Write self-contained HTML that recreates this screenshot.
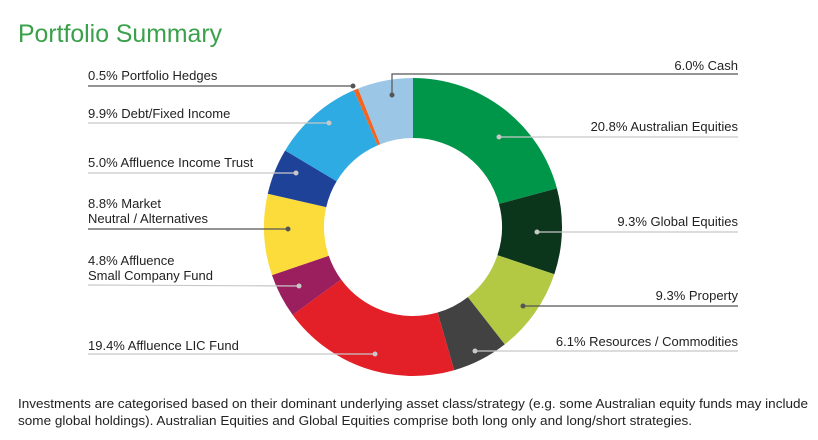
<!DOCTYPE html>
<html><head><meta charset="utf-8"><style>
html,body{margin:0;padding:0;background:#fff;}
body{width:818px;height:440px;position:relative;overflow:hidden;font-family:"Liberation Sans",sans-serif;}
svg{position:absolute;left:0;top:0;}
text{font-family:"Liberation Sans",sans-serif;}
</style></head><body>
<svg id="s" width="818" height="440" viewBox="0 0 818 440">
<text x="18" y="42" font-size="25" fill="#3aa14a" textLength="204" lengthAdjust="spacingAndGlyphs">Portfolio Summary</text>
<g id="d"></g>
<g font-size="13" fill="#222">
<text x="88" y="80">0.5% Portfolio Hedges</text>
<text x="88" y="118">9.9% Debt/Fixed Income</text>
<text x="88" y="167">5.0% Affluence Income Trust</text>
<text x="88" y="208">8.8% Market</text>
<text x="88" y="223">Neutral / Alternatives</text>
<text x="88" y="265">4.8% Affluence</text>
<text x="88" y="280">Small Company Fund</text>
<text x="88" y="350">19.4% Affluence LIC Fund</text>
<g text-anchor="end">
<text x="738" y="70">6.0% Cash</text>
<text x="738" y="131">20.8% Australian Equities</text>
<text x="738" y="226">9.3% Global Equities</text>
<text x="738" y="300">9.3% Property</text>
<text x="738" y="346">6.1% Resources / Commodities</text>
</g>
</g>
<g font-size="13" fill="#222">
<text x="18" y="408" textLength="790" lengthAdjust="spacingAndGlyphs">Investments are categorised based on their dominant underlying asset class/strategy (e.g. some Australian equity funds may include</text>
<text x="18" y="425" textLength="674" lengthAdjust="spacingAndGlyphs">some global holdings). Australian Equities and Global Equities comprise both long only and long/short strategies.</text>
</g>
<g id="l"></g>
</svg>
<script>
var cx=413,cy=227,R=149,r=89;
var segs=[[20.8,"#00964a"],[9.3,"#0c361c"],[9.3,"#b3c944"],[6.1,"#424242"],[19.4,"#e32028"],[4.8,"#9b1f5f"],[8.8,"#fcdc3a"],[5.0,"#1f4299"],[9.9,"#2eabe2"],[0.5,"#f26522"],[6.0,"#9bc6e6"]];
var tot=0;segs.forEach(s=>tot+=s[0]);
var a=0,h="";
function p(rad,ang){return [cx+rad*Math.sin(ang),cy-rad*Math.cos(ang)];}
segs.forEach(s=>{var a0=a/tot*2*Math.PI;a+=s[0];var a1=a/tot*2*Math.PI;var lg=(a1-a0)>Math.PI?1:0;
var o0=p(R,a0),o1=p(R,a1),i1=p(r,a1),i0=p(r,a0);
h+='<path fill="'+s[1]+'" d="M'+o0+' A'+R+','+R+' 0 '+lg+' 1 '+o1+' L'+i1+' A'+r+','+r+' 0 '+lg+' 0 '+i0+'Z"/>';});
document.getElementById('d').innerHTML=h;
var D="#555",L="#c8c8c8";
var lines=[[88,86,353,86,D],[88,123,329,123,L],[88,173,296,173,L],[88,229,288,229,D],[88,285,299,286,L],[88,354,375,354,L],
[499,137,738,137,L],[537,232,738,232,L],[523,306,738,306,D],[475,351,738,351,L]];
var g="";
lines.forEach(q=>{g+='<line x1="'+q[0]+'" y1="'+q[1]+'" x2="'+q[2]+'" y2="'+q[3]+'" stroke="'+q[4]+'" stroke-width="1.2"/>';
var dx=q[0]==88?q[2]:q[0],dy=q[0]==88?q[3]:q[1];g+='<circle cx="'+dx+'" cy="'+dy+'" r="2.5" fill="'+q[4]+'"/>';});
g+='<polyline points="392,95 392,74 738,74" fill="none" stroke="'+D+'" stroke-width="1.2"/><circle cx="392" cy="95" r="2.5" fill="'+D+'"/>';
document.getElementById('l').innerHTML=g;
</script>
</body></html>
